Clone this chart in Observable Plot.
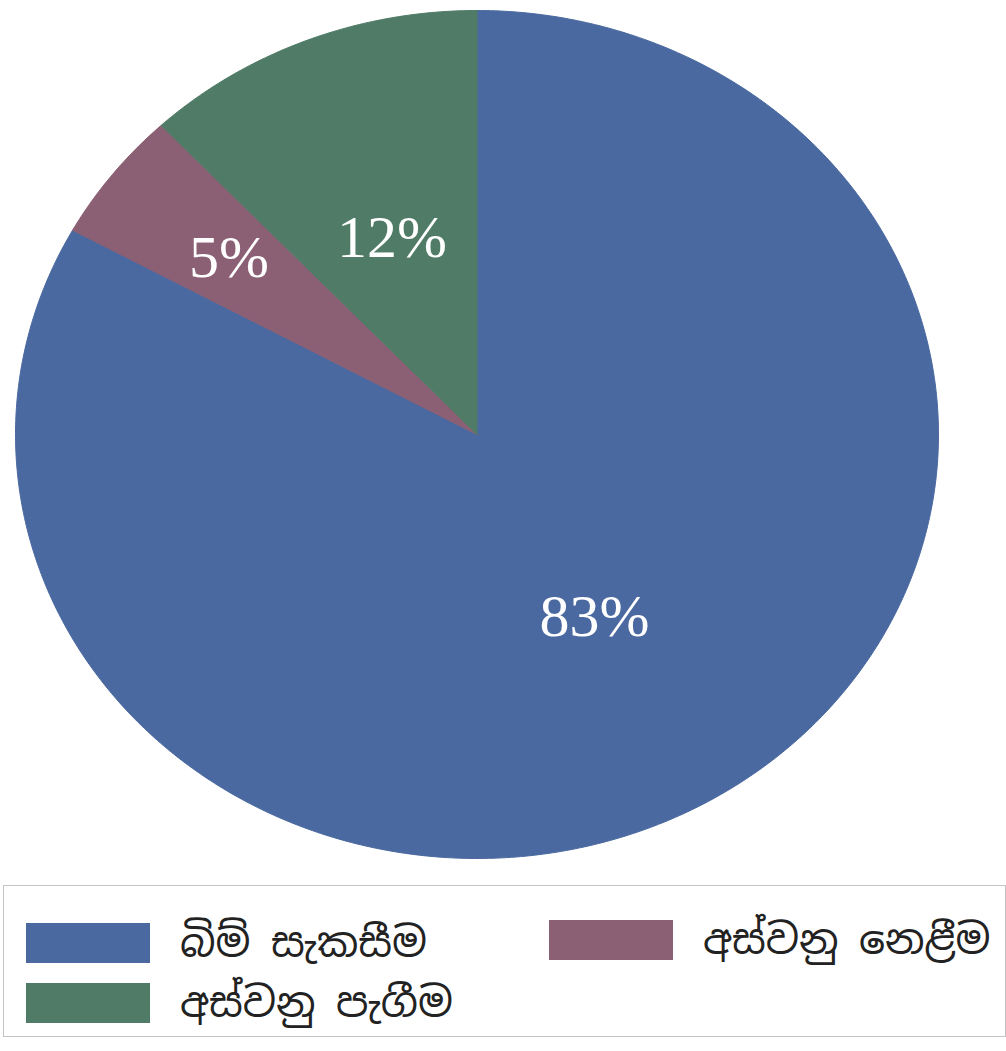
<!DOCTYPE html>
<html>
<head>
<meta charset="utf-8">
<script src="https://cdn.jsdelivr.net/npm/d3@7"></script>
<script src="https://cdn.jsdelivr.net/npm/@observablehq/plot@0.6"></script>
<style>
  html, body { margin: 0; padding: 0; background: #ffffff; }
  #chart { width: 1006px; }
  .legend {
    position: relative;
    box-sizing: border-box;
    margin-left: 3px;
    width: 1003px;
    height: 152px;
    border: 1.5px solid #c4c4c4;
    font-family: "Noto Sans Sinhala", "Iskoola Pota", "Noto Sans", sans-serif;
    font-size: 41px;
    color: #222;
    overflow: hidden;
  }
  .item { position: absolute; display: flex; align-items: center; white-space: nowrap; }
  .sw { width: 124px; height: 40px; margin-right: 30px; }
</style>
</head>
<body>
<div id="chart"></div>
<script>
// ---- data ----
const categories = ["බිම් සැකසීම", "අස්වනු නෙළීම", "අස්වනු පැගීම"];
const values = [83, 5, 12];
const labels = ["83%", "5%", "12%"];
const colors = ["#4a69a0", "#8b5f74", "#4f7b67"];

// ---- build slice outlines from values (clockwise from 12 o'clock) ----
const arcs = d3.pie().sort(null).value(d => d)(values);
const rows = [];
arcs.forEach((a, i) => {
  rows.push({cat: categories[i], x: 0, y: 0});
  const n = Math.max(8, Math.ceil((a.endAngle - a.startAngle) / 0.01));
  for (let k = 0; k <= n; k++) {
    const t = a.startAngle + (a.endAngle - a.startAngle) * k / n;
    rows.push({cat: categories[i], x: Math.sin(t), y: Math.cos(t)});
  }
  rows.push({cat: categories[i], x: 0, y: 0});
});
const labelRows = arcs.map((a, i) => {
  const m = (a.startAngle + a.endAngle) / 2;
  const r = values[i] < 10 ? 0.68 : 0.5;
  return {text: labels[i], x: r * Math.sin(m), y: r * Math.cos(m)};
});

const chart = Plot.plot({
  width: 1006,
  height: 885,
  margin: 0,
  x: {domain: [-1, 1], range: [15, 938], axis: null},
  y: {domain: [-1, 1], range: [858, 10], axis: null},
  color: {domain: categories, range: colors},
  marks: [
    Plot.line(rows, {x: "x", y: "y", z: "cat", fill: "cat", stroke: "cat", strokeWidth: 1, curve: "linear"}),
    Plot.text(labelRows, {x: "x", y: "y", text: "text", fill: "white", fontSize: 60, fontFamily: "Liberation Serif, Times New Roman, serif"})
  ]
});
document.getElementById("chart").appendChild(chart);

// ---- legend ----
const legend = document.createElement("div");
legend.className = "legend";
const pos = [[22, 30], [545, 27], [22, 90]];
categories.forEach((c, i) => {
  const it = document.createElement("div");
  it.className = "item";
  it.style.left = pos[i][0] + "px";
  it.style.top = pos[i][1] + "px";
  const sw = document.createElement("div");
  sw.className = "sw";
  sw.style.background = colors[i];
  const tx = document.createElement("span");
  tx.textContent = c;
  it.appendChild(sw);
  it.appendChild(tx);
  legend.appendChild(it);
});
document.body.appendChild(legend);
</script>
</body>
</html>
